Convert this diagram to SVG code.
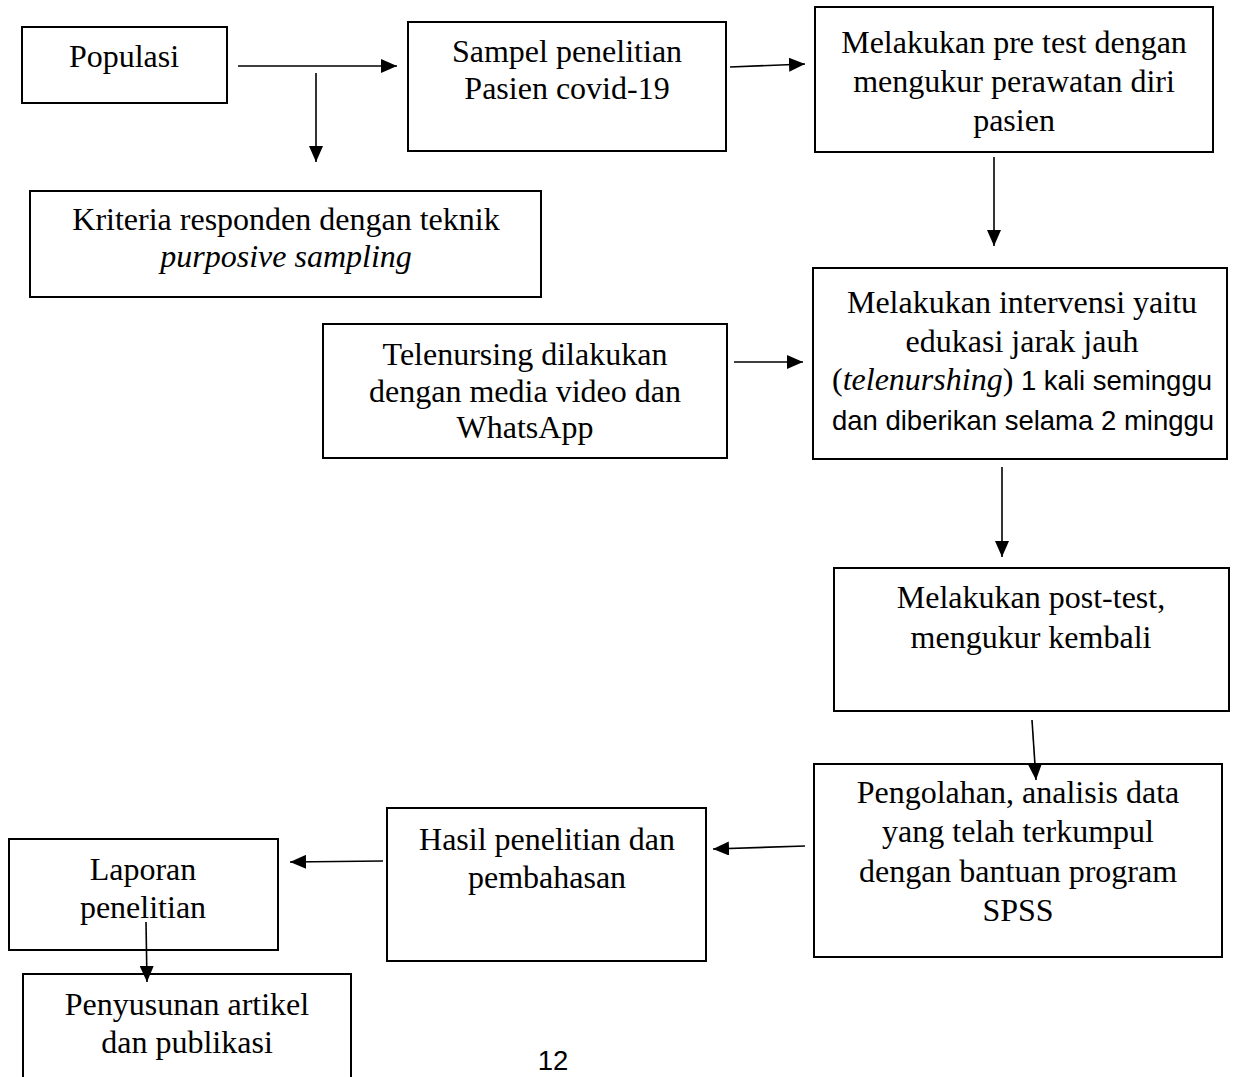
<svg xmlns="http://www.w3.org/2000/svg" width="1234" height="1077" viewBox="0 0 1234 1077">
<style>
.box{fill:#fff;stroke:#000;stroke-width:2}
.t{font-family:"Liberation Serif","Times New Roman",serif;font-size:32px;fill:#000;text-anchor:middle}
.s{font-family:"Liberation Sans",Arial,sans-serif;font-size:27.5px;fill:#000}
.i{font-style:italic}
.c{fill:none;stroke:#000;stroke-width:1.6;marker-end:url(#ah)}
</style>
<defs>
<marker id="ah" markerUnits="userSpaceOnUse" markerWidth="16" markerHeight="14" refX="16" refY="7" orient="auto">
<path d="M0,0 L16,7 L0,14 z" fill="#000"/>
</marker>
</defs>
<rect width="1234" height="1077" fill="#fff"/>
<g id="populasi"><rect class="box" x="22" y="27" width="205" height="76"/><text class="t" x="124" y="67">Populasi</text></g>
<g id="sampel"><rect class="box" x="408" y="22" width="318" height="129"/><text class="t" x="567" y="62">Sampel penelitian</text><text class="t" x="567" y="99">Pasien covid-19</text></g>
<g id="pretest"><rect class="box" x="815" y="7" width="398" height="145"/><text class="t" x="1014" y="53">Melakukan pre test dengan</text><text class="t" x="1014" y="92">mengukur perawatan diri</text><text class="t" x="1014" y="131">pasien</text></g>
<g id="kriteria"><rect class="box" x="30" y="191" width="511" height="106"/><text class="t" x="286" y="230">Kriteria responden dengan teknik</text><text class="t i" x="286" y="267">purposive sampling</text></g>
<g id="telenursing"><rect class="box" x="323" y="324" width="404" height="134"/><text class="t" x="525" y="365">Telenursing dilakukan</text><text class="t" x="525" y="402">dengan media video dan</text><text class="t" x="525" y="438">WhatsApp</text></g>
<g id="intervensi"><rect class="box" x="813" y="268" width="414" height="191"/><text class="t" x="1022" y="313">Melakukan intervensi yaitu</text><text class="t" x="1022" y="352">edukasi jarak jauh</text><text class="t" x="1022" y="390">(<tspan class="i">telenurshing</tspan>)<tspan class="s"> 1 kali seminggu</tspan></text><text class="s" x="1023" y="430" text-anchor="middle">dan diberikan selama 2 minggu</text></g>
<g id="posttest"><rect class="box" x="834" y="568" width="395" height="143"/><text class="t" x="1031" y="608">Melakukan post-test,</text><text class="t" x="1031" y="648">mengukur kembali</text></g>
<g id="spss"><rect class="box" x="814" y="764" width="408" height="193"/><text class="t" x="1018" y="803">Pengolahan, analisis data</text><text class="t" x="1018" y="842">yang telah terkumpul</text><text class="t" x="1018" y="882">dengan bantuan program</text><text class="t" x="1018" y="921">SPSS</text></g>
<g id="hasil"><rect class="box" x="387" y="808" width="319" height="153"/><text class="t" x="547" y="850">Hasil penelitian dan</text><text class="t" x="547" y="888">pembahasan</text></g>
<g id="laporan"><rect class="box" x="9" y="839" width="269" height="111"/><text class="t" x="143" y="880">Laporan</text><text class="t" x="143" y="918">penelitian</text></g>
<g id="penyusunan"><rect class="box" x="23" y="974" width="328" height="110"/><text class="t" x="187" y="1015">Penyusunan artikel</text><text class="t" x="187" y="1053">dan publikasi</text></g>
<g id="connectors">
<line class="c" x1="238" y1="66" x2="397" y2="66"/>
<line class="c" x1="316" y1="73" x2="316" y2="162"/>
<line class="c" x1="730" y1="67" x2="805" y2="64"/>
<line class="c" x1="994" y1="157" x2="994" y2="246"/>
<line class="c" x1="734" y1="362" x2="803" y2="362"/>
<line class="c" x1="1002" y1="467" x2="1002" y2="557"/>
<line class="c" x1="1032" y1="720" x2="1036" y2="780"/>
<line class="c" x1="805" y1="846" x2="713" y2="849"/>
<line class="c" x1="383" y1="861" x2="290" y2="862"/>
<line class="c" x1="146" y1="922" x2="147" y2="982"/>
</g>
<text class="s" x="553" y="1070" text-anchor="middle" font-size="25">12</text>
</svg>
